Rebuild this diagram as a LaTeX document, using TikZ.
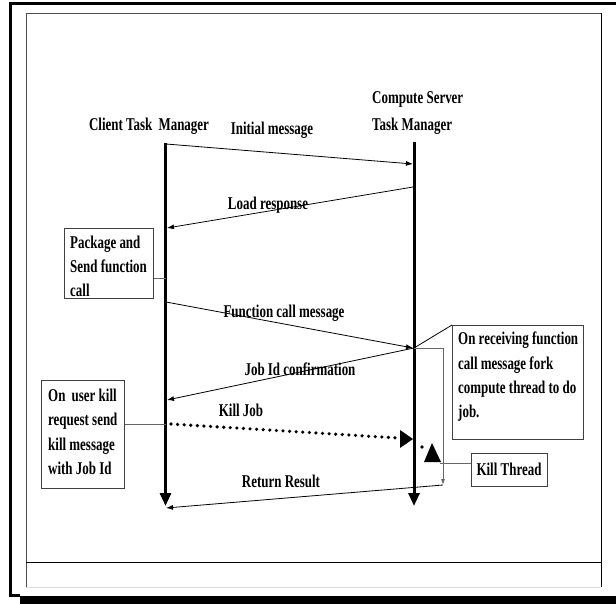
\documentclass[tikz,border=0pt]{standalone}
\usepackage{fontspec}
\setmainfont[FakeStretch=0.72]{Liberation Serif}
\usetikzlibrary{arrows.meta}
\begin{document}
\begin{tikzpicture}[x=1pt,y=-1pt,
  lbl/.style={font=\fontsize{18}{23}\selectfont\bfseries, inner sep=0pt},
  boxnode/.style={draw=black!75, line width=0.9pt, font=\fontsize{18}{24}\selectfont\bfseries, align=left, inner sep=0pt, anchor=north west},
  life/.style={line width=3pt, -{Triangle[width=11pt,length=13pt]}},
  msg/.style={line width=0.8pt, -{Latex[length=7pt,width=5pt]}},
  conn/.style={draw=black!60, line width=0.9pt}]
\useasboundingbox (0,0) rectangle (616,604);
% frame
\draw[line width=3.5pt] (616,3.5) -- (10.5,3.5) -- (10.5,595.5) -- (20,595.5);
\fill (20,596) rectangle (616,604);
\draw[black!70, line width=1pt] (26,587) -- (26,13.3) -- (601,13.3);
\draw[black, line width=1pt] (601,13.3) -- (601,587);
\draw[black!12, line width=1pt] (26,587) -- (601,587);
\draw[line width=1pt] (26,562) -- (601,562);
% titles
\node[lbl] (ctm) at (149,126) {Client Task\, Manager};
\node[lbl, align=left, anchor=west, font=\fontsize{18}{27}\selectfont\bfseries] (stm) at (372,113) {Compute Server\\Task Manager};
% lifelines
\coordinate (c0) at (165.5,143);
\coordinate (c1) at (165.5,506);
\coordinate (s0) at (414,142);
\coordinate (s1) at (414,506);
\draw[life] (c0) -- (c1);
\draw[life] (s0) -- (s1);
% initial message
\coordinate (im0) at (166,144);
\coordinate (im1) at (413,164);
\draw[msg] (im0) -- (im1);
\node[lbl] (iml) at (272,130) {Initial message};
% load response
\coordinate (lr0) at (413,187);
\coordinate (lr1) at (167,228);
\node[lbl] (lrl) at (268,205) {Load response};
\draw[msg] (lr0) -- (lr1);
% package box
\node[boxnode, minimum width=89pt, minimum height=70pt] (pkg) at (64,228) {};
\node[lbl, anchor=north west, align=left, font=\fontsize{18}{24}\selectfont\bfseries] (pkgt) at (70,236) {Package and\\Send function\\call};
\coordinate (pkgc) at (165.5,278);
\draw[conn] (pkg.east |- pkgc) -- (pkgc);
% function call message
\coordinate (fc0) at (166,302);
\coordinate (fc1) at (413,348);
\node[lbl] (fcl) at (284,313) {Function call message};
\draw[msg] (fc0) -- (fc1);
% job id confirmation
\coordinate (jc0) at (414,348);
\coordinate (jc1) at (167,400);
\node[lbl] (jcl) at (300,369) {Job Id confirmation};
\draw[msg] (jc0) -- (jc1);
% on receiving box
\node[boxnode, minimum width=131pt, minimum height=114pt] (rcv) at (452,325) {};
\node[lbl, anchor=north west, align=left, font=\fontsize{18}{24.3}\selectfont\bfseries] (rcvt) at (458,332) {On receiving function\\call message fork\\compute thread to do\\job.};
\draw[line width=0.8pt] (jc0) -- (rcv.north west);
\coordinate (g1) at (443,348);
\coordinate (g2) at (443,485);
\draw[conn, -{Latex[length=6pt,width=4pt]}] (jc0) -- (g1) -- (g2);
% on user kill box
\node[boxnode, minimum width=83pt, minimum height=108pt] (ukl) at (41,380) {};
\node[lbl, anchor=north west, align=left, font=\fontsize{18}{24.3}\selectfont\bfseries] (uklt) at (48,389) {On\, user kill\\request send\\kill message\\with Job Id};
\coordinate (ukc) at (165.5,424);
\draw[conn] (ukl.east |- ukc) -- (ukc);
% kill job
\coordinate (kj0) at (171,424);
\coordinate (kj1) at (398,438);
\draw[line width=3.6pt, dash pattern=on 0pt off 6.6pt, line cap=round] (kj0) -- (kj1);
\fill (400,430) -- (413,439) -- (400,448) -- cycle;
\node[lbl] (kjl) at (241,410) {Kill Job};
\fill (422,447) circle (1.8);
\fill (432,443) -- (441,462) -- (424,462) -- cycle;
% kill thread
\node[boxnode, minimum width=76pt, minimum height=33pt, anchor=center] (kth) at (509,469.5) {Kill Thread};
\coordinate (kta) at (440,463);
\draw[conn] (kth.west |- kta) -- (kta);
% return result
\coordinate (rr1) at (166,508);
\draw[msg] (g2) -- (rr1);
\node[lbl] (rrl) at (281,481) {Return Result};
\end{tikzpicture}
\end{document}
